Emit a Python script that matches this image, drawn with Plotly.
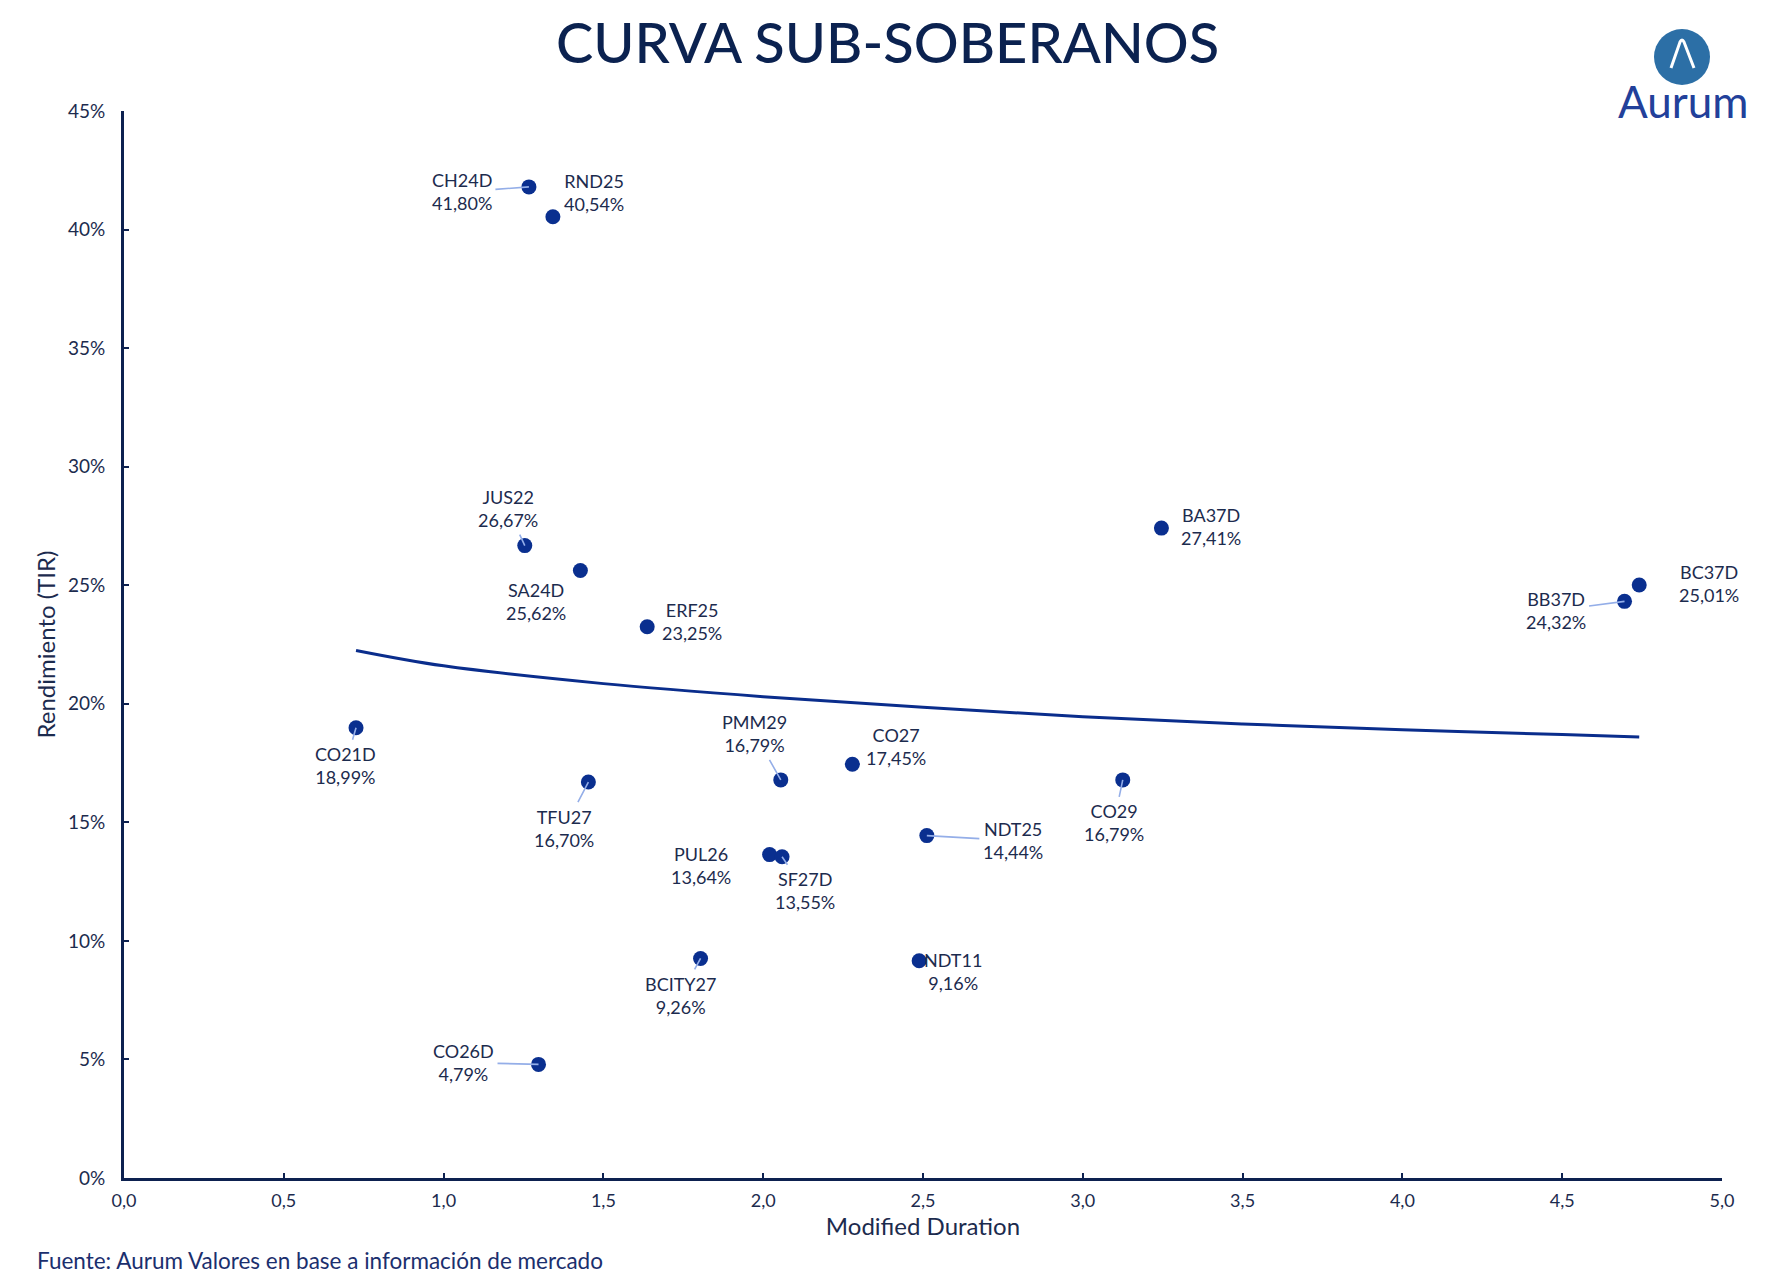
import plotly.graph_objects as go

# ---------------- data ----------------
bonds = ["CH24D", "RND25", "JUS22", "SA24D", "ERF25", "BA37D", "BC37D", "BB37D",
         "CO21D", "PMM29", "CO27", "TFU27", "CO29", "NDT25", "PUL26", "SF27D",
         "BCITY27", "NDT11", "CO26D"]
duration = [1.267, 1.342, 1.254, 1.428, 1.637, 3.246, 4.741, 4.695,
            0.726, 2.055, 2.279, 1.453, 3.125, 2.512, 2.020, 2.059,
            1.804, 2.488, 1.297]
ytm = [41.80, 40.54, 26.67, 25.62, 23.25, 27.41, 25.01, 24.32,
       18.99, 16.79, 17.45, 16.70, 16.79, 14.44, 13.64, 13.55,
       9.26, 9.16, 4.79]

trend_x = [0.726, 1.0, 1.5, 2.0, 2.5, 3.0, 3.5, 4.0, 4.5, 4.741]
trend_y = [22.25, 21.6, 20.85, 20.3, 19.85, 19.45, 19.15, 18.9, 18.7, 18.6]

x_ticks = [0, 0.5, 1.0, 1.5, 2.0, 2.5, 3.0, 3.5, 4.0, 4.5, 5.0]
x_tick_text = ["0,0", "0,5", "1,0", "1,5", "2,0", "2,5", "3,0", "3,5", "4,0", "4,5", "5,0"]
y_ticks = [0, 5, 10, 15, 20, 25, 30, 35, 40, 45]
y_tick_text = ["0%", "5%", "10%", "15%", "20%", "25%", "30%", "35%", "40%", "45%"]

# label offsets in pixels (dx, dy) from the point to the label centre, and whether a leader line is drawn
label_layout = {
    "CH24D":   (-67, 5, True),
    "RND25":   (41, -24, False),
    "JUS22":   (-17, -37, True),
    "SA24D":   (-44, 31, False),
    "ERF25":   (45, -5, False),
    "BA37D":   (50, -2, False),
    "BC37D":   (70, -1, False),
    "BB37D":   (-69, 9, True),
    "CO21D":   (-11, 38, True),
    "PMM29":   (-26, -46, True),
    "CO27":    (44, -18, False),
    "TFU27":   (-24, 46, True),
    "CO29":    (-9, 43, True),
    "NDT25":   (86, 5, True),
    "PUL26":   (-69, 11, False),
    "SF27D":   (23, 34, True),
    "BCITY27": (-20, 37, True),
    "NDT11":   (34, 11, False),
    "CO26D":   (-75, -2, True),
}

NAVY = "#0d2150"
TEXT = "#1c2b4e"
MARK = "#0a2f8f"
LEADER = "#94aee8"
FONT = "Lato"
LABEL_SIZE = 18

fig = go.Figure()

fig.add_trace(go.Scatter(
    x=trend_x, y=trend_y, mode="lines",
    line=dict(color="#0a2d8c", width=3, shape="spline"),
    hoverinfo="skip", showlegend=False,
))

fig.add_trace(go.Scatter(
    x=duration, y=ytm, mode="markers",
    marker=dict(color=MARK, size=15, line=dict(width=0)),
    text=bonds, showlegend=False,
))

for name, xv, yv in zip(bonds, duration, ytm):
    dx, dy, leader = label_layout[name]
    txt = f"{name}<br>{yv:.2f}%".replace(".", ",")
    if leader:
        fig.add_annotation(
            x=xv, y=yv, text=txt, showarrow=True, ax=dx, ay=dy,
            arrowhead=0, arrowwidth=1.6, arrowcolor=LEADER, standoff=0,
            font=dict(family=FONT, size=LABEL_SIZE, color=TEXT), align="center",
            borderpad=3,
        )
    else:
        fig.add_annotation(
            x=xv, y=yv, text=txt, showarrow=False, xshift=dx, yshift=-dy,
            font=dict(family=FONT, size=LABEL_SIZE, color=TEXT), align="center",
        )

# ----- layout geometry (pixels) -----
W, H = 1775, 1288
L, R, T, B = 124, 1722, 111, 1178


def px(xp):
    return (xp - L) / (R - L)


def py(yp):
    return (B - yp) / (B - T)


# title
fig.add_annotation(
    xref="paper", yref="paper", x=px(887), y=py(42), text="CURVA SUB-SOBERANOS",
    showarrow=False, font=dict(family=FONT, size=56, color="#0b2250", weight=500),
    xanchor="center", yanchor="middle",
)
# footer
fig.add_annotation(
    xref="paper", yref="paper", x=px(35), y=py(1260), text="Fuente: Aurum Valores en base a información de mercado",
    showarrow=False, font=dict(family=FONT, size=22.5, color="#1b2f6e"),
    xanchor="left", yanchor="middle",
)
# logo
fig.add_shape(type="circle", xref="paper", yref="paper",
              x0=px(1654), x1=px(1710), y0=py(85), y1=py(29),
              fillcolor="#2c6fa6", line=dict(width=0), layer="above")
fig.add_shape(type="path", xref="paper", yref="paper",
              path=f"M {px(1671)},{py(68)} L {px(1680)},{py(42)} Q {px(1682)},{py(38)} {px(1684)},{py(42)} "
                   f"L {px(1694)},{py(68)}",
              line=dict(color="white", width=3), layer="above")
fig.add_annotation(
    xref="paper", yref="paper", x=px(1683), y=py(101), text="Aurum",
    showarrow=False, font=dict(family=FONT, size=44, color="#22409a"),
    xanchor="center", yanchor="middle",
)

fig.update_layout(
    width=W, height=H,
    margin=dict(l=L, r=W - R, t=T, b=H - B),
    paper_bgcolor="white", plot_bgcolor="white",
    font=dict(family=FONT, color=TEXT),
    xaxis=dict(
        range=[0, 5], tickvals=x_ticks, ticktext=x_tick_text,
        showgrid=False, zeroline=False,
        showline=True, linecolor=NAVY, linewidth=3,
        ticks="inside", ticklen=5, tickwidth=2, tickcolor=NAVY,
        ticklabelstandoff=4,
        tickfont=dict(family=FONT, size=18, color=TEXT),
        title=dict(text="Modified Duration", font=dict(family=FONT, size=24, color=TEXT), standoff=8),
    ),
    yaxis=dict(
        range=[0, 45], tickvals=y_ticks, ticktext=y_tick_text,
        showgrid=False, zeroline=False,
        showline=True, linecolor=NAVY, linewidth=3,
        ticks="inside", ticklen=5, tickwidth=2, tickcolor=NAVY,
        ticklabelstandoff=12,
        tickfont=dict(family=FONT, size=19, color=TEXT),
        title=dict(text="Rendimiento (TIR)", font=dict(family=FONT, size=24, color=TEXT), standoff=6),
    ),
)

fig.write_html("out.html")
